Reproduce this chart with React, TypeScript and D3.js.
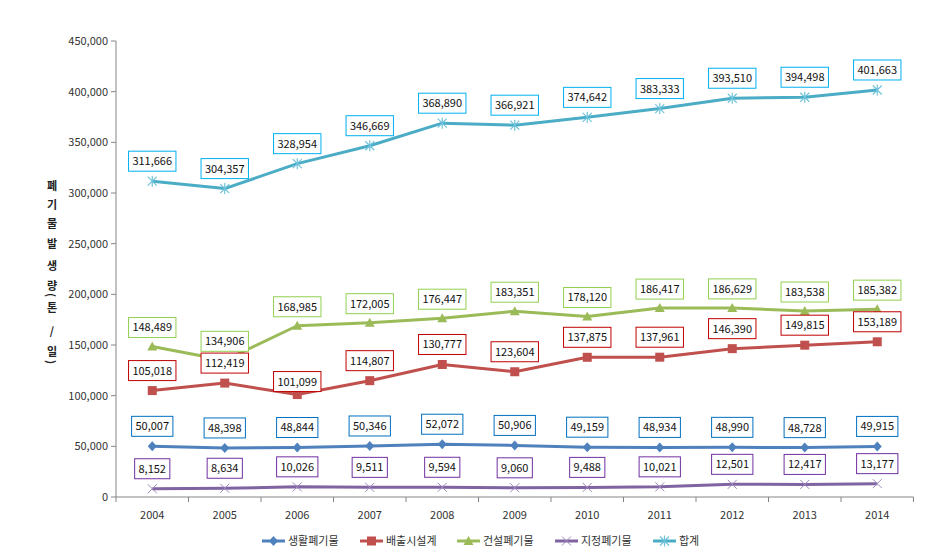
import React from "react";
import * as d3 from "d3";

const years = ["2004","2005","2006","2007","2008","2009","2010","2011","2012","2013","2014"];
const household = [50007,48398,48844,50346,52072,50906,49159,48934,48990,48728,49915];
const facility = [105018,112419,101099,114807,130777,123604,137875,137961,146390,149815,153189];
const construction = [148489,134906,168985,172005,176447,183351,178120,186417,186629,183538,185382];
const designated = [8152,8634,10026,9511,9594,9060,9488,10021,12501,12417,13177];
const total = [311666,304357,328954,346669,368890,366921,374642,383333,393510,394498,401663];
const seriesNames = ["생활폐기물","배출시설계","건설폐기물","지정폐기물","합계"];
const yTicks = [0,50000,100000,150000,200000,250000,300000,350000,400000,450000];
const yTitleChars = ["폐","기","물","발","생","량","(","톤","/","일",")"];

const W = 942, H = 557;
const M = { left: 116, right: 913.5, top: 41, bottom: 497 };
const FONT = "'Noto Sans CJK KR', 'Noto Sans', sans-serif";

type Marker = "diamond" | "square" | "triangle" | "x" | "star";
const series = [
  { name: seriesNames[0], values: household, color: "#4F81BD", box: "#0070C0", marker: "diamond" as Marker, dy: household.map(() => -20) },
  { name: seriesNames[1], values: facility, color: "#C0504D", box: "#C00000", marker: "square" as Marker, dy: facility.map((_, i) => (i === 2 ? -13 : -20)) },
  { name: seriesNames[2], values: construction, color: "#9BBB59", box: "#92D050", marker: "triangle" as Marker, dy: construction.map(() => -19) },
  { name: seriesNames[3], values: designated, color: "#8064A2", box: "#7030A0", marker: "x" as Marker, dy: designated.map(() => -20) },
  { name: seriesNames[4], values: total, color: "#4BACC6", box: "#00B0F0", marker: "star" as Marker, dy: total.map(() => -20) },
];

function MarkerShape({ type, x, y, color }: { type: Marker; x: number; y: number; color: string }) {
  switch (type) {
    case "diamond":
      return <path d={`M${x},${y - 5}L${x + 4.5},${y}L${x},${y + 5}L${x - 4.5},${y}Z`} fill={color} />;
    case "square":
      return <rect x={x - 4.5} y={y - 4.5} width={9} height={9} fill={color} />;
    case "triangle":
      return <path d={`M${x},${y - 5}L${x + 5},${y + 4}L${x - 5},${y + 4}Z`} fill={color} />;
    case "x":
      return <path d={`M${x - 4.5},${y - 4.5}L${x + 4.5},${y + 4.5}M${x - 4.5},${y + 4.5}L${x + 4.5},${y - 4.5}`} stroke="#9D88BE" strokeWidth={1} fill="none" />;
    case "star":
      return <path d={`M${x - 4.5},${y - 4.5}L${x + 4.5},${y + 4.5}M${x - 4.5},${y + 4.5}L${x + 4.5},${y - 4.5}M${x},${y - 5.5}L${x},${y + 5.5}`} stroke="#6FC3DA" strokeWidth={1.2} fill="none" />;
  }
  return null;
}

export default function App() {
  const x = d3.scaleBand().domain(years).range([M.left, M.right]);
  const bw = x.bandwidth();
  const cx = (yr: string) => (x(yr) as number) + bw / 2;
  const y = d3.scaleLinear().domain([0, 450000]).range([M.bottom, M.top]);
  const fmt = d3.format(",");
  const line = d3.line<number>().x((_, i) => cx(years[i])).y((d) => y(d));
  const textW = (s: string) => s.replace(/,/g, "").length * 6.1 + (s.match(/,/g) || []).length * 2.8;

  const titleOffsets = [0, 19, 38, 58, 80, 100, 110, 122, 145, 166, 177];

  const legendX = [262, 360, 457, 555, 653];

  return (
    <svg width={W} height={H} style={{ position: "absolute", left: 0, top: 0, background: "#fff" }} fontFamily={FONT}>
      <rect width={W} height={H} fill="#fff" />
      {/* y axis */}
      <line x1={M.left} x2={M.left} y1={M.top} y2={M.bottom} stroke="#868686" strokeWidth={1} />
      {yTicks.map((t) => (
        <g key={t}>
          <line x1={M.left - 5} x2={M.left} y1={y(t)} y2={y(t)} stroke="#868686" />
          <text x={M.left - 8} y={y(t)} dy="0.35em" textAnchor="end" fontSize={11} fill="#333">{fmt(t)}</text>
        </g>
      ))}
      {/* x axis */}
      <line x1={M.left} x2={M.right} y1={M.bottom} y2={M.bottom} stroke="#868686" />
      {years.map((yr) => (
        <line key={"t" + yr} x1={(x(yr) as number) + bw} x2={(x(yr) as number) + bw} y1={M.bottom} y2={M.bottom + 5} stroke="#868686" />
      ))}
      <line x1={M.left} x2={M.left} y1={M.bottom} y2={M.bottom + 5} stroke="#868686" />
      {years.map((yr) => (
        <text key={"l" + yr} x={cx(yr)} y={519} textAnchor="middle" fontSize={11} fill="#333">{yr}</text>
      ))}
      {/* y title */}
      {yTitleChars.map((c, i) => {
        const ty = 185 + titleOffsets[i];
        const paren = c === "(" || c === ")";
        return (
          <text key={"yt" + i} x={52} y={ty} dominantBaseline="central" textAnchor="middle" fontSize={11} fontWeight="bold" fill="#222"
            transform={paren ? `rotate(90 52 ${ty})` : undefined}>{c}</text>
        );
      })}
      {/* lines */}
      {series.map((s) => (
        <g key={s.name}>
          <path d={line(s.values) || ""} fill="none" stroke={s.color} strokeWidth={3} strokeLinejoin="round" />
          {s.values.map((v, i) => (
            <MarkerShape key={i} type={s.marker} x={cx(years[i])} y={y(v)} color={s.color} />
          ))}
        </g>
      ))}
      {/* labels */}
      {series.map((s) => (
        <g key={"lab" + s.name}>
          {s.values.map((v, i) => {
            const t = fmt(v);
            const w = textW(t) + 8;
            const px = cx(years[i]);
            const py = y(v) + s.dy[i];
            return (
              <g key={i}>
                <rect x={px - w / 2} y={py - 10} width={w} height={20} fill="#fff" stroke={s.box} strokeWidth={1} />
                <text x={px} y={py} dy="0.36em" textAnchor="middle" fontSize={11} fill="#111">{t}</text>
              </g>
            );
          })}
        </g>
      ))}
      {/* legend */}
      {series.map((s, i) => (
        <g key={"leg" + s.name}>
          <line x1={legendX[i]} x2={legendX[i] + 23} y1={541} y2={541} stroke={s.color} strokeWidth={3} />
          <MarkerShape type={s.marker} x={legendX[i] + 11.5} y={541} color={s.color} />
          <text x={legendX[i] + 26} y={541} dy="0.36em" fontSize={11} fill="#333">{s.name}</text>
        </g>
      ))}
    </svg>
  );
}
